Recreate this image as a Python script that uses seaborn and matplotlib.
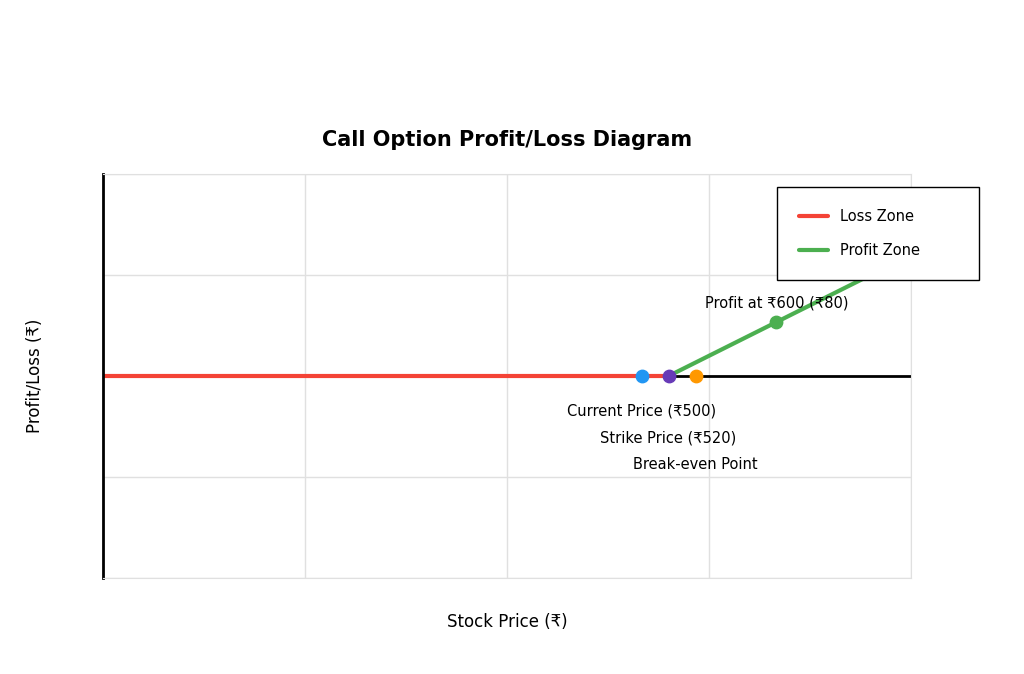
import matplotlib
matplotlib.use("Agg")
import matplotlib.pyplot as plt
import seaborn as sns

sns.set_style("white")
plt.rcParams['font.family'] = ['DejaVu Sans', 'Noto Sans']
plt.rcParams['text.color'] = 'black'

loss_x = [100, 520]
loss_y = [0, 0]
profit_x = [520, 700]
profit_y = [0, 180]
zero_x = [100, 700]
zero_y = [0, 0]
point_x = [500, 520, 540, 600]
point_y = [0, 0, 0, 80]
point_colors = ["#2196F3", "#673AB7", "#FF9800", "#4CAF50"]
labels = ["Current Price (₹500)", "Strike Price (₹520)", "Break-even Point", "Profit at ₹600 (₹80)"]
label_dy = [-52, -92, -132, 28]
label_dx = [0, 0, 0, 0]

fig = plt.figure(figsize=(10.24, 6.74), dpi=100)
ax = fig.add_axes([0.1006, 0.1424, 0.7890, 0.5994])

sns.lineplot(x=zero_x, y=zero_y, ax=ax, color="black", lw=2)
sns.lineplot(x=loss_x, y=loss_y, ax=ax, color="#F44336", lw=3, label="Loss Zone")
sns.lineplot(x=profit_x, y=profit_y, ax=ax, color="#4CAF50", lw=3, label="Profit Zone")
for x, y, c in zip(point_x, point_y, point_colors):
    ax.scatter([x], [y], color=c, s=80, zorder=5)
for x, y, t, dx, dy in zip(point_x, point_y, labels, label_dx, label_dy):
    ax.text(x + dx, y + dy, t, ha="center", va="center", fontsize=10.5, color="black")

ax.set_xlim(100, 700)
ax.set_ylim(-300, 300)
ax.set_xticks([100, 250, 400, 550, 700])
ax.set_yticks([-300, -150, 0, 150, 300])
ax.set_xticklabels([])
ax.set_yticklabels([])
ax.tick_params(length=0)
ax.grid(True, color="#e0e0e0", lw=1)
for s in ["top", "right", "bottom"]:
    ax.spines[s].set_color("#e0e0e0")
ax.spines["left"].set_color("black")
ax.spines["left"].set_linewidth(2)

ax.set_title("Call Option Profit/Loss Diagram", fontsize=15, fontweight="bold", pad=20, color="black")
ax.set_xlabel("Stock Price (₹)", fontsize=12, labelpad=22, color="black")
ax.set_ylabel("Profit/Loss (₹)", fontsize=12, labelpad=50, color="black")
ax.yaxis.set_label_coords(-0.073, 0.5)

leg = ax.legend(loc="upper left", bbox_to_anchor=(0.834, 0.7, 0.25, 0.268), mode="expand",
                frameon=True, fancybox=False, edgecolor="black", fontsize=10.5,
                borderpad=1.5, labelspacing=1.3, handlelength=2, framealpha=1, borderaxespad=0)
leg.get_frame().set_linewidth(1)

fig.savefig("out.png", dpi=100)
